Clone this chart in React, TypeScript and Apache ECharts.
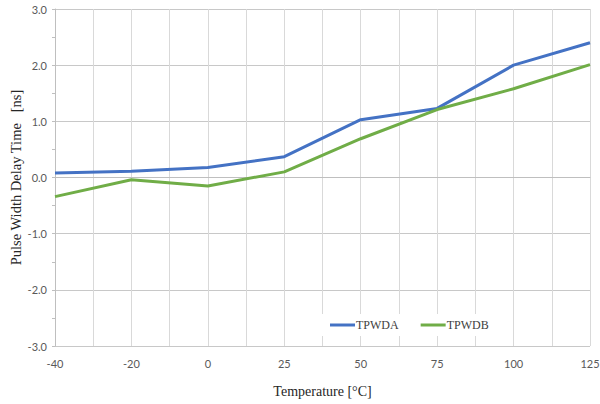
import React, { useEffect, useRef } from "react";
import * as echarts from "echarts";

const temperatures = ["-40", "-20", "0", "25", "50", "75", "100", "125"];
const tpwdA = [0.08, 0.11, 0.18, 0.37, 1.03, 1.23, 2.0, 2.4];
const tpwdB = [-0.34, -0.04, -0.15, 0.1, 0.69, 1.21, 1.58, 2.01];
const seriesNames = ["TPWDA", "TPWDB"];

export default function App() {
  const ref = useRef<HTMLDivElement>(null);
  useEffect(() => {
    if (!ref.current) return;
    const chart = echarts.init(ref.current, null, { renderer: "svg" });
    const toPairs = (arr: number[]) => arr.map((v, i) => [i, v]);
    chart.setOption({
      animation: false,
      backgroundColor: "#ffffff",
      grid: { left: 55, right: 10, top: 9, bottom: 58, outerBoundsMode: "none", containLabel: false },
      legend: {
        data: seriesNames,
        left: 318,
        top: 314,
        padding: [5, 12, 5, 12],
        backgroundColor: "#ffffff",
        icon: "rect",
        itemWidth: 25,
        itemHeight: 3,
        itemGap: 22,
        textStyle: {
          fontFamily: "Liberation Serif",
          fontSize: 12,
          color: "#404040",
          padding: [0, 0, 0, -4],
        },
      },
      xAxis: {
        type: "value",
        min: 0,
        max: temperatures.length - 1,
        interval: 0.5,
        name: "Temperature [°C]",
        nameLocation: "middle",
        nameGap: 38,
        nameMoveOverlap: false,
        nameTextStyle: { fontFamily: "Liberation Serif", fontSize: 14, color: "#262626" },
        axisLine: { show: true, lineStyle: { color: "#bfbfbf", width: 1 } },
        axisTick: { show: false },
        axisLabel: {
          fontFamily: "Lato",
          fontSize: 11,
          color: "#595959",
          margin: 12,
          formatter: (v: number) => (Number.isInteger(v) ? temperatures[v] : ""),
        },
        splitLine: { show: true, lineStyle: { color: "#d9d9d9", width: 1 } },
      },
      yAxis: {
        type: "value",
        min: -3,
        max: 3,
        interval: 1,
        name: "Pulse Width Delay Time   [ns]",
        nameLocation: "middle",
        nameGap: 32,
        nameMoveOverlap: false,
        nameTextStyle: { fontFamily: "Liberation Serif", fontSize: 14.5, color: "#262626" },
        axisLine: { show: true, lineStyle: { color: "#bfbfbf", width: 1 } },
        axisTick: { show: true, length: 3, lineStyle: { color: "#bfbfbf" } },
        minorTick: { show: true, splitNumber: 2, length: 3, lineStyle: { color: "#bfbfbf" } },
        axisLabel: {
          fontFamily: "Lato",
          fontSize: 11,
          color: "#595959",
          margin: 8,
          formatter: (v: number) => v.toFixed(1),
        },
        splitLine: { show: true, lineStyle: { color: "#c8c8c8", width: 1 } },
      },
      series: [
        {
          name: seriesNames[0],
          type: "line",
          data: toPairs(tpwdA),
          symbol: "none",
          lineStyle: { color: "#4472c4", width: 3 },
          itemStyle: { color: "#4472c4" },
        },
        {
          name: seriesNames[1],
          type: "line",
          data: toPairs(tpwdB),
          symbol: "none",
          lineStyle: { color: "#70ad47", width: 3 },
          itemStyle: { color: "#70ad47" },
        },
      ],
    });
    return () => chart.dispose();
  }, []);
  return (
    <div
      ref={ref}
      style={{ position: "fixed", left: 0, top: 0, width: 600, height: 404 }}
    />
  );
}
